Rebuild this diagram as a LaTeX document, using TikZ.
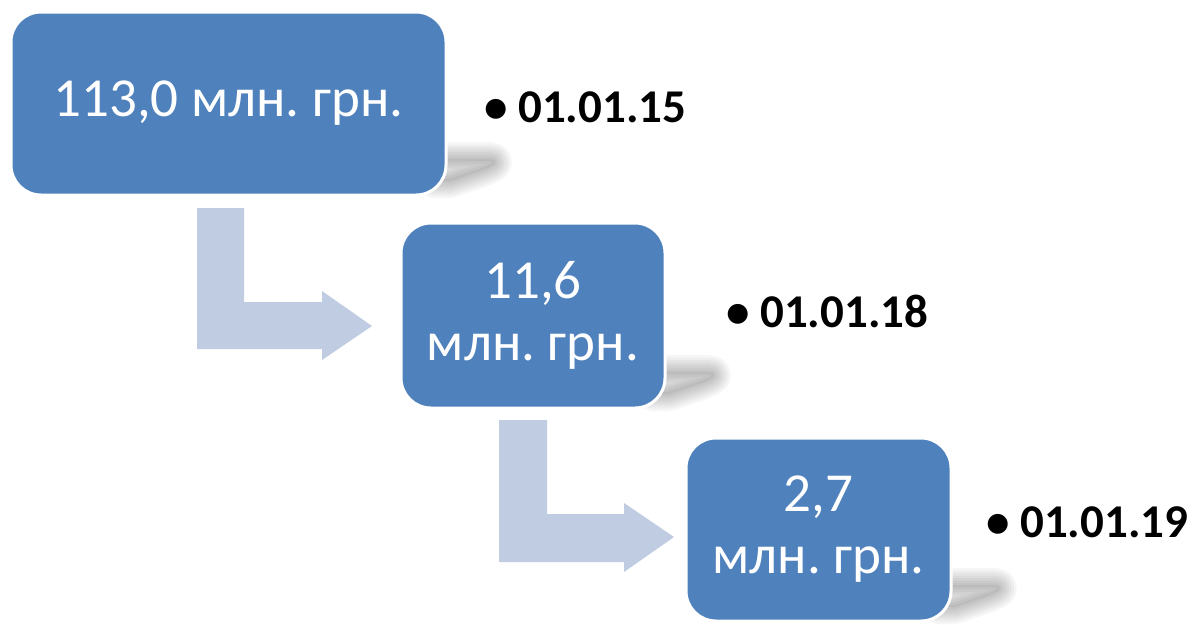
\documentclass[tikz,border=0pt]{standalone}
\usepackage{fontspec}
\setmainfont{Carlito}
\usetikzlibrary{calc}
\frenchspacing
\definecolor{boxblue}{RGB}{79,129,189}
\definecolor{arrowblue}{RGB}{192,204,226}
\tikzset{
  valbox/.style={rectangle, rounded corners=30pt, fill=boxblue, draw=white, line width=3pt,
    text=white, align=center, inner sep=0pt, font=\fontsize{55}{62}\selectfont},
  datelabel/.style={anchor=base west, inner sep=0pt, font=\fontsize{47}{50}\selectfont\bfseries},
  bentarrow/.style={fill=arrowblue, draw=none},
  shadowlayer/.style={draw=black, line join=round}
}
\newcommand{\boxshadow}[1]{%
  \begin{scope}[shift={(#1)}]
    \foreach \w in {34,29,24,19,14,9,4}{
      \path[shadowlayer, line width=\w pt, draw opacity=0.035]
        (-12,-36) -- (42,-36) .. controls (54,-35) and (50,-30) .. (36,-25) -- (4,-14) -- (-12,-14) -- cycle;
    }
    \fill[black, fill opacity=0.04] (-12,-36) -- (42,-36) .. controls (54,-35) and (50,-30) .. (36,-25) -- (4,-14) -- (-12,-14) -- cycle;
  \end{scope}}
\begin{document}
\begin{tikzpicture}[x=1pt,y=-1pt]
\fill[white] (0,0) rectangle (1193,624);
\useasboundingbox (0,0) rectangle (1193,624);

% shadows
\boxshadow{446,195}
\boxshadow{665,408}
\boxshadow{951,621}

% bent arrows
\fill[bentarrow] (197,208) -- (244,208) -- (244,302) -- (322,302) -- (322,291) -- (372,326) -- (322,360) -- (322,349) -- (197,349) -- cycle;
\fill[bentarrow] (499,420) -- (547,420) -- (547,514) -- (624,514) -- (624,503) -- (674,537) -- (624,572) -- (624,562) -- (499,562) -- cycle;

% boxes
\node[valbox, minimum width=435pt, minimum height=183pt] (b1) at (228.5,103.5) {113,0 млн. грн.};
\node[valbox, minimum width=264pt, minimum height=185pt] (b2) at (533,315.5) {11,6\\млн. грн.};
\node[valbox, minimum width=265pt, minimum height=183pt] (b3) at (818.5,529.5) {2,7\\млн. грн.};

% dates
\node[datelabel] (d1) at (484,122) {• 01.01.15};
\node[datelabel] (d2) at (726,327) {• 01.01.18};
\node[datelabel] (d3) at (986,537) {• 01.01.19};
\end{tikzpicture}
\end{document}
